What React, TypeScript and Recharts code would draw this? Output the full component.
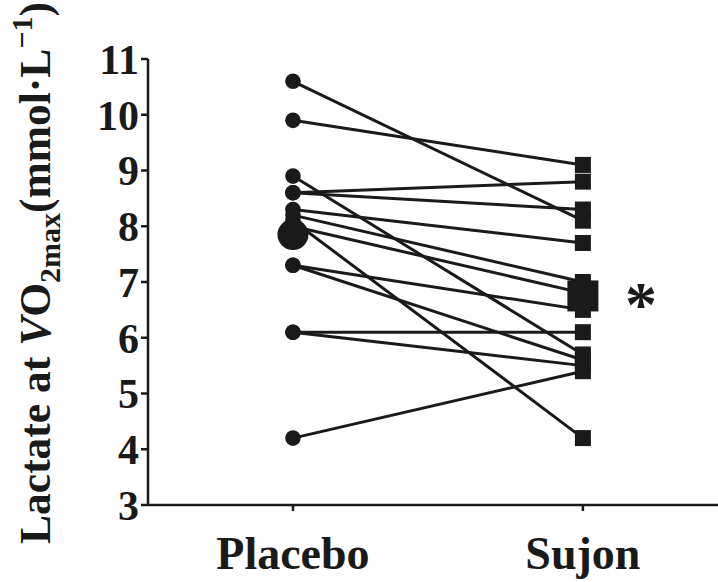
import { ComposedChart, Line, Scatter, XAxis, YAxis } from 'recharts';

const groups = ['Placebo', 'Sujon'];
// one entry per subject, paired by index
const placebo = [10.6, 9.9, 8.9, 8.6, 8.6, 8.3, 8.2, 8.0, 8.1, 7.3, 7.3, 6.1, 6.1, 4.2];
const sujon = [8.1, 9.1, 5.7, 8.8, 8.3, 7.7, 7.0, 6.8, 4.2, 6.5, 5.6, 6.1, 5.5, 5.4];
const means = [7.85, 6.75];
const yTicks = [3, 4, 5, 6, 7, 8, 9, 10, 11];
const xTicks = [0, 1];
const starAt = { x: 1.2, y: 6.75 };

const ink = '#1a1a1a';
const serif = '"Liberation Serif", "Times New Roman", serif';

const rows = groups.map((g, i) => {
  const row: Record<string, number | string> = { x: i, name: g };
  placebo.forEach((_, k) => {
    row[`s${k}`] = i === 0 ? placebo[k] : sujon[k];
  });
  return row;
});

const meanRows = means.map((m, i) => ({ x: i, y: m }));

function SubjectDot(props: any) {
  const { cx, cy, payload, index } = props;
  if (cx == null || cy == null) return null;
  if (payload.x === 0) return <circle key={index} cx={cx} cy={cy} r={7.8} fill={ink} />;
  return <rect key={index} x={cx - 8} y={cy - 8} width={16} height={16} fill={ink} />;
}

function MeanMark(props: any) {
  const { cx, cy, payload } = props;
  if (payload.x === 0) return <circle cx={cx} cy={cy} r={15.5} fill={ink} />;
  return <rect x={cx - 15.5} y={cy - 15.5} width={31} height={31} fill={ink} />;
}

function Star(props: any) {
  const { cx, cy } = props;
  return (
    <text x={cx} y={cy + 30} textAnchor="middle" fontSize={64} fontWeight="bold" fontFamily={serif} fill={ink}>
      *
    </text>
  );
}

function XTick(props: any) {
  const { x, y, payload } = props;
  return (
    <text x={x} y={y + 56} textAnchor="middle" fontSize={46} fontWeight="bold" fontFamily={serif} fill={ink}>
      {groups[payload.value]}
    </text>
  );
}

function YTitle() {
  const cx = 50;
  const cy = 273;
  return (
    <text
      x={cx}
      y={cy}
      transform={`rotate(-90, ${cx}, ${cy})`}
      textAnchor="middle"
      fontSize={43.5}
      fontWeight="bold"
      fontFamily={serif}
      fill={ink}
    >
      Lactate at{' '}
      <tspan fontStyle="italic" fontFamily='"Liberation Serif", serif'>
        V
      </tspan>
      O
      <tspan fontSize={30} dy={10}>
        2max
      </tspan>
      <tspan dy={-10}>(mmol·L</tspan>
      <tspan fontSize={30} dy={-18}>
        −1
      </tspan>
      <tspan dy={18}>)</tspan>
    </text>
  );
}

export default function App() {
  return (
    <div style={{ width: 718, height: 582, background: '#fff' }}>
      <style>{'body{margin:0}'}</style>
      <ComposedChart width={718} height={582} data={rows} margin={{ top: 59, right: 0, bottom: 0, left: 0 }}>
        <XAxis
          dataKey="x"
          type="number"
          domain={[-0.5, 1.466]}
          ticks={xTicks}
          allowDataOverflow
          height={77}
          stroke={ink}
          strokeWidth={2.5}
          tickSize={6}
          tickLine={{ stroke: ink, strokeWidth: 2.5 }}
          tick={<XTick />}
        />
        <YAxis
          type="number"
          domain={[3, 11]}
          ticks={yTicks}
          interval={0}
          allowDataOverflow
          width={148}
          stroke={ink}
          strokeWidth={2.5}
          tickSize={7}
          tickMargin={2}
          tickLine={{ stroke: ink, strokeWidth: 2.5 }}
          tick={{ fontSize: 42, fontWeight: 'bold', fill: ink, fontFamily: serif }}
          label={<YTitle />}
        />
        {placebo.map((_, k) => (
          <Line
            key={k}
            type="linear"
            dataKey={`s${k}`}
            stroke={ink}
            strokeWidth={3}
            dot={<SubjectDot />}
            activeDot={false}
            isAnimationActive={false}
          />
        ))}
        <Scatter data={meanRows} dataKey="y" shape={<MeanMark />} isAnimationActive={false} />
        <Scatter data={[starAt]} dataKey="y" shape={<Star />} isAnimationActive={false} />
      </ComposedChart>
    </div>
  );
}
